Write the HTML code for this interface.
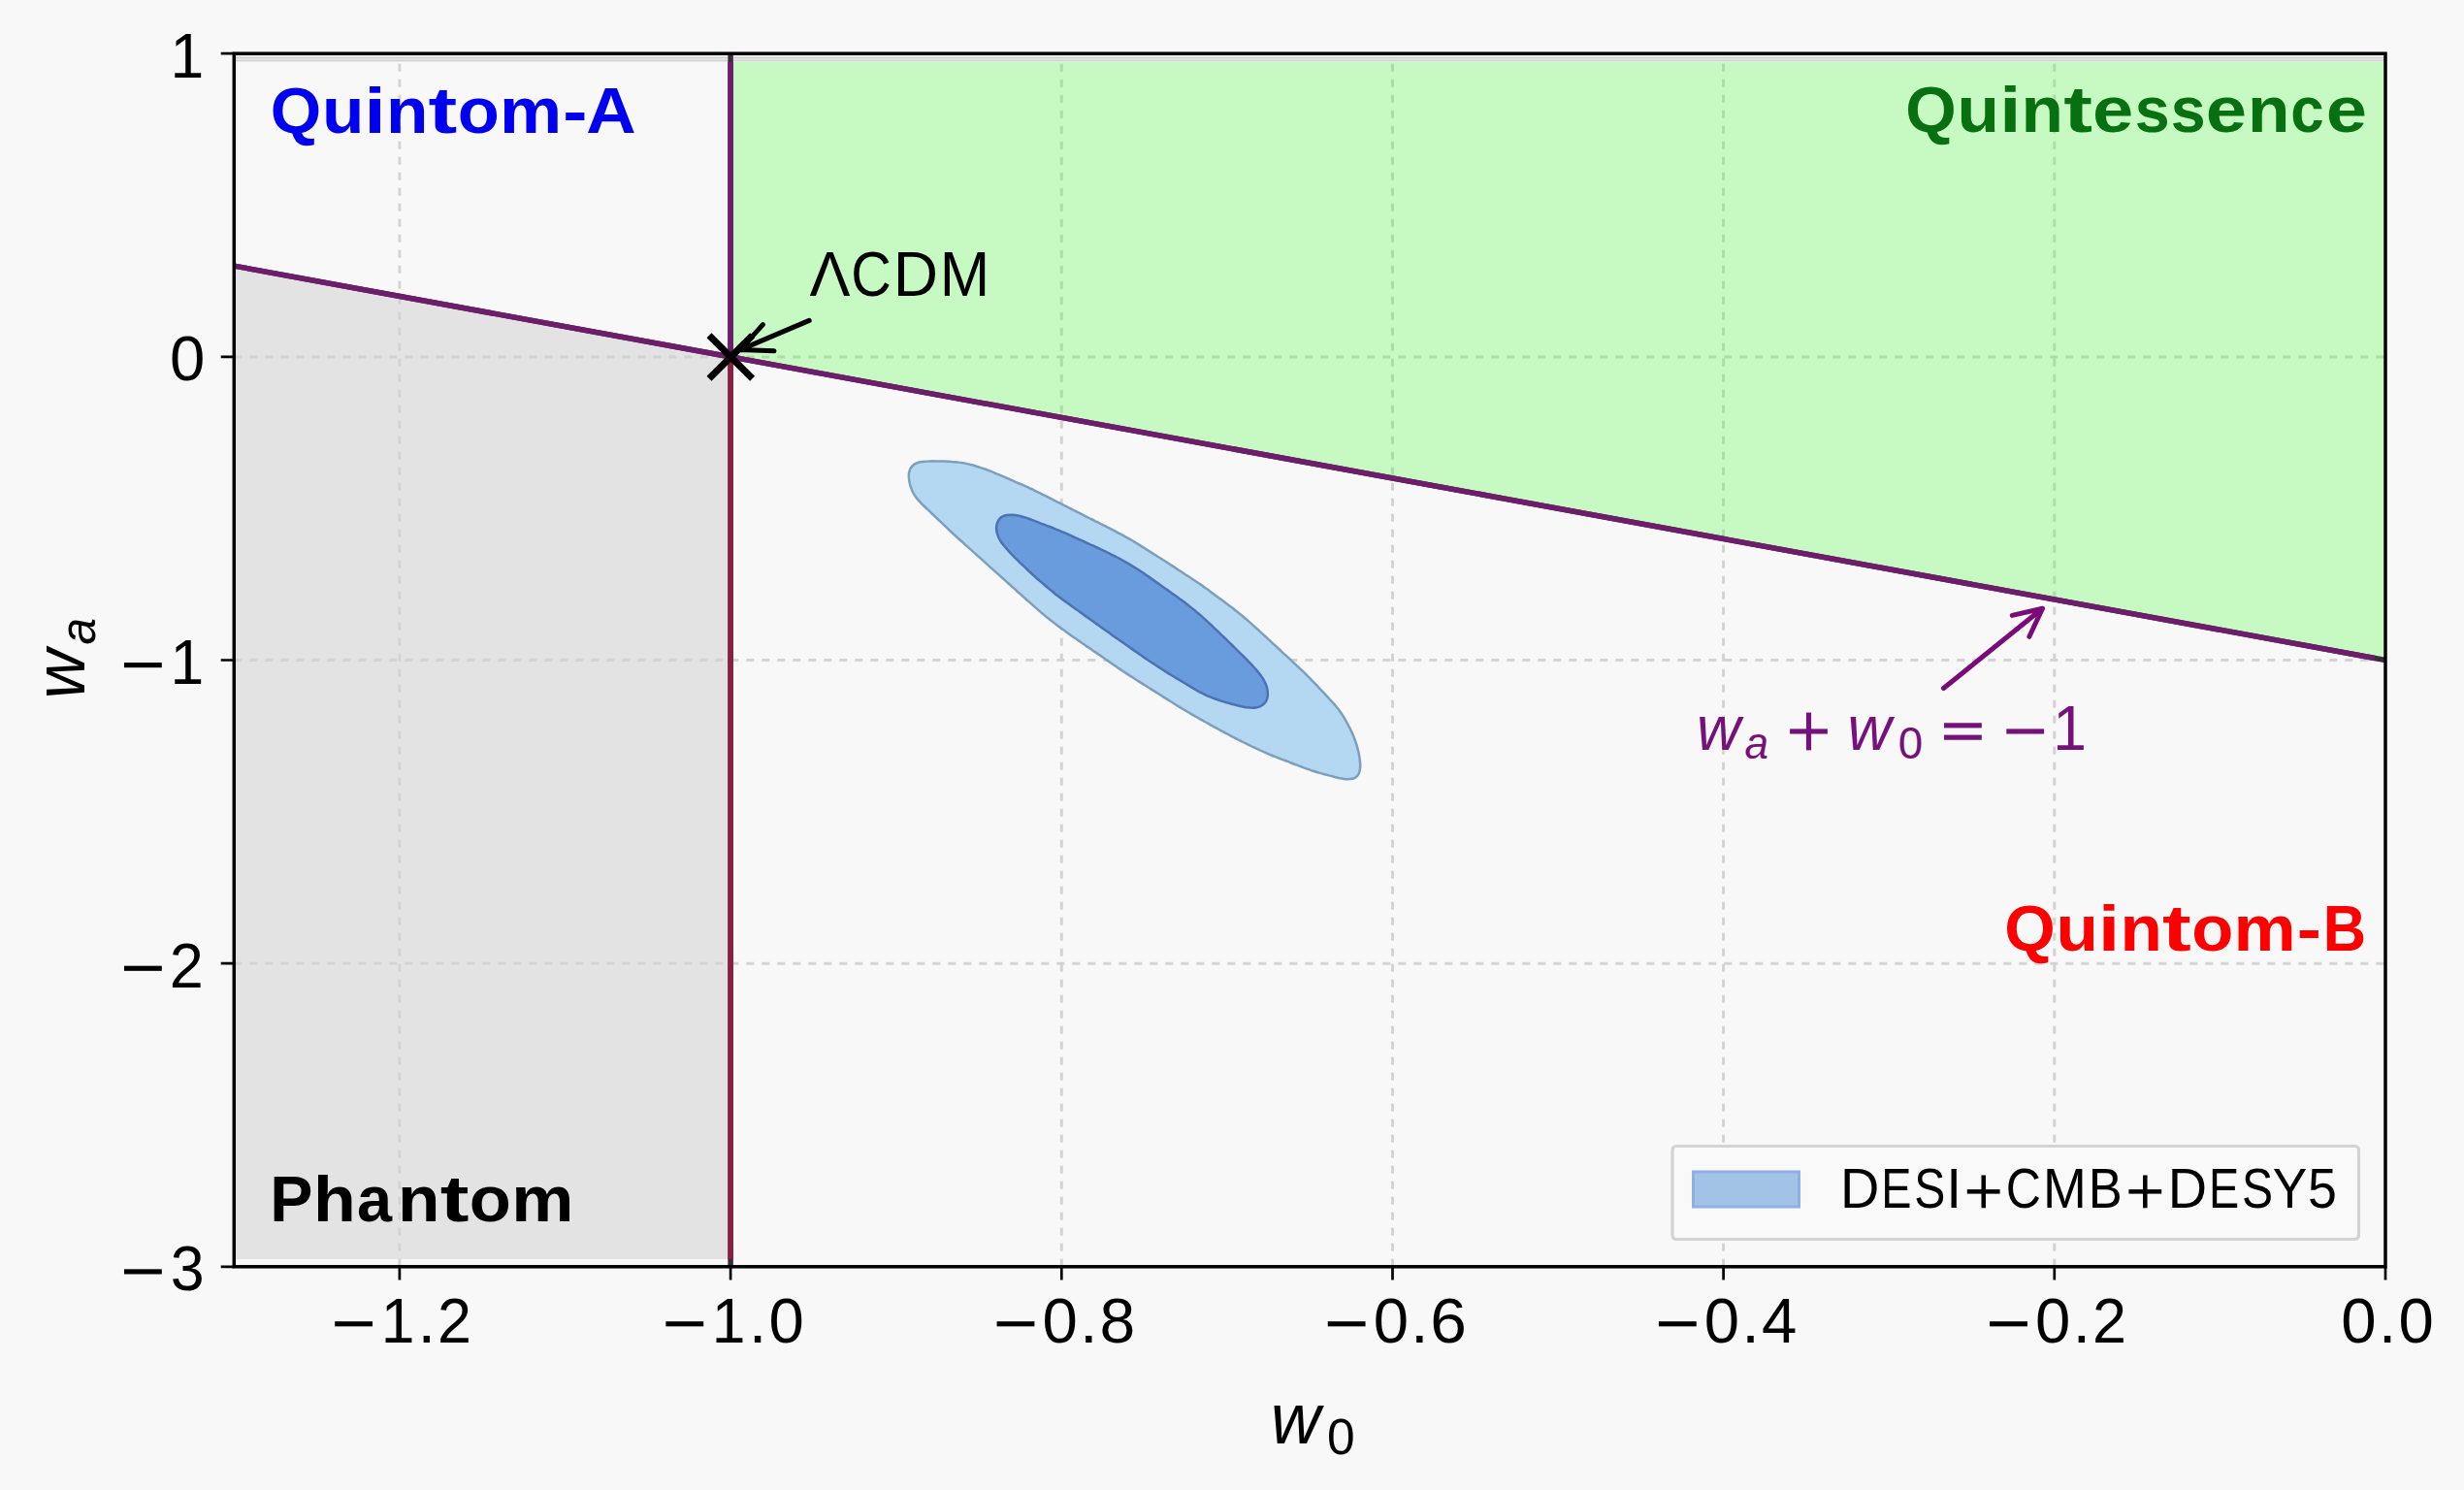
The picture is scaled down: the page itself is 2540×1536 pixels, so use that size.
<!DOCTYPE html><html><head><meta charset="utf-8"><title>w0-wa plane</title><style>html,body{margin:0;padding:0;background:#f8f8f8;width:2540px;height:1536px;overflow:hidden}svg{display:block}text{font-family:"Liberation Sans",sans-serif}</style></head><body>
<svg width="2540" height="1536" viewBox="0 0 2540 1536">
<rect x="0" y="0" width="2540" height="1536" fill="#f8f8f8"/>
<path d="M411.9,1305.8V55.2M753.1,1305.8V55.2M1094.3,1305.8V55.2M1435.5,1305.8V55.2M1776.6,1305.8V55.2M2117.8,1305.8V55.2M241.3,367.9H2459M241.3,680.5H2459M241.3,993.2H2459" stroke="#d3d3d3" stroke-width="3" stroke-dasharray="8 8" fill="none"/>
<polygon points="243.3,274.5 753.1,367.9 753.1,1298 243.3,1298" fill="#d3d3d3" fill-opacity="0.57"/>
<polygon points="753.1,64 2457.5,64 2457.5,680.3 753.1,367.9" fill="#34ff20" fill-opacity="0.25"/>
<rect x="241.3" y="57" width="2217.7" height="7" fill="#e9e9e9"/>
<path d="M241.3,59.6H2459M241.3,62.4H2459" stroke="#d0d0d0" stroke-width="1.2" fill="none"/>
<path d="M936.8,490.5C936.8,488.8 937,487.6 937.4,486.2C937.7,484.8 938,483.6 938.9,482.3C939.8,481 941.5,479.3 942.8,478.4C944.1,477.5 945.4,477.1 946.7,476.7C948.1,476.3 949.3,476.1 951.1,475.9C952.8,475.7 955.3,475.5 957,475.5C958.8,475.4 960,475.4 961.5,475.3C963,475.3 964.3,475.3 966,475.4C967.8,475.4 970.3,475.4 972,475.5C973.8,475.6 975,475.6 976.5,475.7C978,475.8 979.3,475.8 981,476C982.8,476.1 985.3,476.3 987,476.5C988.7,476.7 990,476.8 991.5,477.1C992.9,477.3 994.2,477.5 995.9,477.9C997.6,478.3 1000,478.9 1001.7,479.3C1003.4,479.8 1004.6,480.1 1006,480.5C1007.5,481 1008.7,481.3 1010.3,481.9C1012,482.4 1014.4,483.3 1016,483.8C1017.7,484.4 1018.8,484.9 1020.2,485.4C1021.6,486 1022.8,486.4 1024.4,487.1C1026,487.8 1028.3,488.8 1029.9,489.4C1031.5,490.1 1032.7,490.6 1034.1,491.2C1035.4,491.8 1036.6,492.3 1038.2,493C1039.8,493.7 1042.1,494.7 1043.7,495.4C1045.3,496.1 1046.5,496.6 1047.8,497.2C1049.2,497.8 1050.4,498.3 1052,499C1053.6,499.7 1055.9,500.7 1057.5,501.4C1059.1,502.1 1060.2,502.6 1061.6,503.3C1062.9,503.9 1064.1,504.4 1065.6,505.2C1067.2,506 1069.4,507.1 1071,507.9C1072.6,508.7 1073.7,509.2 1075,509.9C1076.4,510.6 1077.5,511.2 1079.1,511.9C1080.6,512.7 1082.9,513.9 1084.4,514.6C1086,515.4 1087.1,516 1088.4,516.7C1089.8,517.4 1090.9,517.9 1092.5,518.7C1094,519.5 1096.3,520.6 1097.8,521.4C1099.4,522.2 1100.5,522.8 1101.8,523.4C1103.2,524.1 1104.3,524.7 1105.9,525.5C1107.4,526.3 1109.7,527.4 1111.2,528.2C1112.8,529 1113.9,529.5 1115.2,530.2C1116.6,530.9 1117.7,531.5 1119.3,532.3C1120.8,533 1123.1,534.2 1124.6,535C1126.2,535.7 1127.3,536.3 1128.6,537C1130,537.7 1131.1,538.2 1132.7,539C1134.2,539.8 1136.5,540.9 1138,541.7C1139.6,542.5 1140.7,543.1 1142,543.8C1143.4,544.4 1144.5,545 1146.1,545.8C1147.6,546.6 1149.8,547.8 1151.4,548.6C1152.9,549.4 1154,550 1155.4,550.7C1156.7,551.4 1157.8,552 1159.3,552.8C1160.9,553.7 1163.1,554.9 1164.6,555.7C1166.1,556.6 1167.2,557.2 1168.5,558C1169.8,558.8 1170.8,559.4 1172.3,560.4C1173.8,561.3 1175.9,562.6 1177.4,563.6C1178.9,564.5 1179.9,565.2 1181.2,566C1182.5,566.8 1183.5,567.4 1185,568.4C1186.5,569.3 1188.6,570.6 1190.1,571.6C1191.6,572.5 1192.4,573.1 1193.9,574C1195.4,574.9 1197.5,576.3 1199,577.2C1200.4,578.1 1201.5,578.8 1202.8,579.6C1204,580.4 1205.1,581.1 1206.5,582.1C1208,583 1210.1,584.4 1211.6,585.4C1213,586.3 1214.1,587 1215.3,587.8C1216.6,588.7 1217.6,589.4 1219.1,590.3C1220.6,591.3 1222.6,592.7 1224.1,593.6C1225.6,594.6 1226.6,595.3 1227.9,596.1C1229.1,596.9 1230.2,597.6 1231.6,598.6C1233.1,599.6 1235.2,600.9 1236.6,601.9C1238.1,602.9 1239.1,603.6 1240.3,604.5C1241.5,605.4 1242.6,606.1 1244,607.1C1245.4,608.1 1247.4,609.6 1248.8,610.7C1250.2,611.7 1251.2,612.5 1252.4,613.4C1253.6,614.3 1254.6,615 1256,616.1C1257.4,617.1 1259.5,618.6 1260.9,619.6C1262.3,620.7 1263.3,621.4 1264.5,622.3C1265.7,623.2 1266.7,624 1268.1,625C1269.5,626.1 1271.5,627.6 1272.8,628.7C1274.2,629.8 1275.2,630.5 1276.4,631.5C1277.6,632.4 1278.5,633.2 1279.9,634.3C1281.2,635.4 1283.2,637 1284.5,638.1C1285.8,639.3 1286.8,640.1 1287.9,641.1C1289.1,642.1 1290,642.9 1291.3,644.1C1292.6,645.2 1294.4,646.9 1295.7,648.1C1297,649.3 1297.9,650.1 1299,651.2C1300.1,652.2 1301.1,653 1302.3,654.2C1303.6,655.4 1305.5,657.1 1306.8,658.3C1308,659.5 1309,660.3 1310.1,661.4C1311.2,662.4 1312.1,663.2 1313.4,664.4C1314.7,665.6 1316.5,667.3 1317.8,668.5C1319.1,669.7 1320,670.5 1321.1,671.6C1322.2,672.6 1323.1,673.4 1324.4,674.6C1325.7,675.8 1327.5,677.5 1328.8,678.7C1330.1,679.9 1331,680.7 1332.1,681.8C1333.2,682.8 1334.1,683.6 1335.4,684.8C1336.7,686 1338.5,687.7 1339.8,688.9C1341.1,690.1 1342,691 1343.1,692C1344.1,693.1 1345,693.9 1346.3,695.2C1347.5,696.4 1349.3,698.2 1350.5,699.4C1351.7,700.7 1352.6,701.6 1353.6,702.7C1354.7,703.8 1355.6,704.7 1356.8,705.9C1358,707.2 1359.7,709 1360.9,710.3C1362.1,711.5 1363,712.5 1364,713.6C1365,714.6 1365.9,715.6 1367.1,716.8C1368.3,718.1 1370,720 1371.1,721.3C1372.3,722.5 1373.2,723.5 1374.2,724.6C1375.2,725.7 1376,726.6 1377.1,728C1378.3,729.3 1379.8,731.3 1380.9,732.7C1381.9,734.1 1382.6,735.1 1383.4,736.4C1384.2,737.6 1384.8,738.7 1385.7,740.2C1386.6,741.7 1387.9,743.9 1388.7,745.4C1389.5,747 1390.1,748.1 1390.8,749.4C1391.5,750.7 1392.1,751.9 1392.8,753.4C1393.6,755 1394.6,757.3 1395.3,758.9C1396,760.5 1396.4,761.7 1396.9,763.1C1397.4,764.5 1397.8,765.7 1398.3,767.4C1398.8,769 1399.5,771.5 1399.9,773.2C1400.3,774.8 1400.6,775.8 1400.9,777.5C1401.2,779.3 1401.6,781.7 1401.8,783.5C1402,785.2 1402.1,786.5 1402.2,787.9C1402.2,789.4 1402.3,790.7 1402,792.4C1401.8,794 1401.2,796.4 1400.6,797.8C1399.9,799.2 1399.1,800.1 1398,800.9C1397,801.7 1396,802.3 1394.4,802.7C1392.9,803.1 1390.4,803.2 1388.7,803.3C1387,803.3 1385.8,803 1384.3,802.8C1382.8,802.6 1381.6,802.3 1379.9,802C1378.2,801.6 1375.8,801 1374.1,800.5C1372.4,800.1 1371.2,799.8 1369.7,799.4C1368.3,799 1367,798.7 1365.3,798.2C1363.7,797.8 1361.2,797.1 1359.6,796.6C1357.9,796.1 1356.7,795.8 1355.3,795.3C1353.8,794.8 1352.6,794.5 1351,793.9C1349.3,793.3 1347,792.5 1345.3,791.9C1343.7,791.3 1342.5,790.8 1341.1,790.3C1339.7,789.8 1338.5,789.3 1336.9,788.7C1335.3,788.1 1332.9,787.2 1331.3,786.5C1329.7,785.9 1328.5,785.4 1327.1,784.9C1325.7,784.4 1324.5,783.9 1322.9,783.3C1321.3,782.7 1318.9,781.8 1317.3,781.1C1315.7,780.5 1314.5,780 1313.1,779.5C1311.7,778.9 1310.5,778.5 1308.9,777.8C1307.3,777.1 1305,776.1 1303.4,775.4C1301.8,774.7 1300.7,774.2 1299.3,773.6C1297.9,772.9 1296.8,772.4 1295.2,771.6C1293.6,770.9 1291.4,769.8 1289.8,769.1C1288.2,768.3 1287.1,767.8 1285.7,767.1C1284.4,766.5 1283.3,765.9 1281.7,765.2C1280.1,764.4 1277.9,763.3 1276.3,762.5C1274.7,761.7 1273.6,761.1 1272.3,760.5C1271,759.8 1269.8,759.2 1268.3,758.4C1266.7,757.6 1264.5,756.4 1263,755.6C1261.4,754.7 1260.3,754.1 1259,753.4C1257.7,752.7 1256.6,752.1 1255.1,751.2C1253.6,750.4 1251.4,749.2 1249.8,748.3C1248.3,747.5 1247.2,746.9 1245.9,746.1C1244.6,745.4 1243.5,744.8 1241.9,744C1240.4,743.1 1238.2,741.9 1236.7,741.1C1235.2,740.2 1234.1,739.6 1232.8,738.8C1231.5,738.1 1230.4,737.5 1228.9,736.6C1227.4,735.7 1225.2,734.4 1223.7,733.5C1222.2,732.7 1221.1,732 1219.8,731.2C1218.6,730.5 1217.5,729.8 1216,728.9C1214.5,728 1212.4,726.7 1210.9,725.7C1209.4,724.8 1208.3,724.1 1207.1,723.3C1205.8,722.5 1204.7,721.9 1203.2,720.9C1201.8,720 1199.6,718.7 1198.2,717.7C1196.7,716.8 1195.6,716.1 1194.4,715.3C1193.1,714.5 1192,713.9 1190.5,712.9C1189.1,712 1186.9,710.7 1185.5,709.7C1184,708.8 1182.9,708.1 1181.7,707.3C1180.4,706.5 1179.3,705.9 1177.8,704.9C1176.4,704 1174.2,702.7 1172.8,701.7C1171.3,700.8 1170.2,700.1 1169,699.3C1167.7,698.5 1166.7,697.8 1165.2,696.9C1163.7,695.9 1161.6,694.5 1160.2,693.6C1158.7,692.6 1157.9,692 1156.4,691.1C1155,690.1 1152.9,688.7 1151.5,687.7C1150,686.7 1149,686 1147.7,685.1C1146.5,684.3 1145.5,683.6 1144,682.6C1142.6,681.6 1140.5,680.2 1139.1,679.2C1137.6,678.2 1136.6,677.5 1135.4,676.6C1134.1,675.8 1133.1,675.1 1131.7,674.1C1130.2,673.1 1128.2,671.7 1126.7,670.7C1125.3,669.7 1124.2,669 1123,668.1C1121.8,667.3 1120.7,666.5 1119.3,665.6C1117.8,664.6 1115.8,663.1 1114.3,662.2C1112.9,661.2 1111.9,660.4 1110.6,659.6C1109.4,658.7 1108.4,658 1106.9,657C1105.5,656 1103.5,654.5 1102,653.5C1100.6,652.5 1099.6,651.8 1098.4,650.9C1097.2,650 1096.2,649.3 1094.7,648.3C1093.3,647.2 1091.3,645.7 1089.9,644.7C1088.5,643.6 1087.5,642.9 1086.3,641.9C1085.2,641 1084.2,640.3 1082.8,639.2C1081.4,638.1 1079.5,636.5 1078.1,635.4C1076.7,634.3 1075.8,633.5 1074.6,632.6C1073.5,631.6 1072.5,630.8 1071.2,629.6C1069.9,628.5 1068,626.9 1066.7,625.7C1065.3,624.6 1064.4,623.7 1063.3,622.7C1062.2,621.7 1061.2,620.9 1059.9,619.7C1058.6,618.6 1056.8,616.9 1055.5,615.7C1054.2,614.5 1053.2,613.7 1052.1,612.7C1051,611.7 1050.1,610.9 1048.7,609.7C1047.4,608.5 1045.6,606.9 1044.3,605.7C1043,604.5 1042,603.7 1040.9,602.7C1039.8,601.7 1038.9,600.8 1037.6,599.7C1036.3,598.5 1034.4,596.8 1033.1,595.7C1031.8,594.5 1030.9,593.6 1029.8,592.6C1028.6,591.6 1027.7,590.8 1026.4,589.6C1025.1,588.5 1023.2,586.8 1021.9,585.6C1020.6,584.5 1019.7,583.6 1018.6,582.6C1017.5,581.6 1016.5,580.8 1015.2,579.6C1013.9,578.4 1012.1,576.8 1010.8,575.6C1009.5,574.4 1008.5,573.6 1007.4,572.6C1006.3,571.6 1005.4,570.7 1004.1,569.6C1002.8,568.4 1000.9,566.7 999.6,565.6C998.3,564.4 997.3,563.6 996.2,562.6C995.1,561.6 994.2,560.7 992.9,559.5C991.6,558.4 989.7,556.7 988.4,555.5C987.1,554.4 986.2,553.5 985.1,552.5C984,551.5 983,550.7 981.8,549.5C980.5,548.3 978.6,546.6 977.4,545.4C976.1,544.2 975.2,543.3 974.1,542.2C973,541.2 972.1,540.3 970.9,539.1C969.6,537.9 967.8,536.2 966.5,535C965.2,533.8 964.3,532.9 963.2,531.9C962.2,530.8 961.3,530 960,528.8C958.7,527.6 956.9,525.8 955.6,524.6C954.4,523.4 953.5,522.6 952.4,521.5C951.3,520.5 950.4,519.6 949.2,518.3C948,517.1 946.3,515.2 945.2,513.9C944.1,512.5 943.4,511.5 942.6,510.2C941.9,509 941.2,507.9 940.5,506.3C939.8,504.7 939,502.4 938.4,500.7C937.9,499.1 937.7,498.1 937.4,496.4C937.1,494.7 936.9,492.2 936.8,490.5Z" fill="#b4d7f2" stroke="#7c9fbf" stroke-width="2.5"/>
<path d="M1306.9,716.4C1306.8,718.1 1306.5,719.3 1306,720.6C1305.6,721.9 1305.1,723.1 1304.1,724.3C1303,725.5 1301.1,727 1299.8,727.8C1298.4,728.6 1297.1,728.9 1295.7,729.2C1294.3,729.5 1293.1,729.7 1291.3,729.7C1289.6,729.7 1287.1,729.5 1285.4,729.3C1283.7,729.1 1282.5,728.8 1281,728.5C1279.5,728.2 1278.3,727.9 1276.6,727.5C1274.9,727.1 1272.5,726.4 1270.8,726C1269.1,725.5 1267.9,725.2 1266.5,724.8C1265,724.4 1263.8,724.1 1262.1,723.6C1260.5,723.1 1258.1,722.4 1256.4,721.8C1254.8,721.2 1253.6,720.8 1252.2,720.3C1250.8,719.8 1249.6,719.3 1248,718.6C1246.4,718 1244.1,717 1242.5,716.3C1240.9,715.6 1239.8,715 1238.5,714.3C1237.1,713.6 1236,713 1234.5,712.2C1233,711.3 1230.8,710 1229.3,709.1C1227.8,708.2 1226.8,707.6 1225.5,706.8C1224.2,706 1223.1,705.4 1221.6,704.5C1220.1,703.6 1218,702.3 1216.5,701.4C1215,700.5 1213.9,699.9 1212.6,699.1C1211.3,698.3 1210.3,697.7 1208.8,696.8C1207.3,695.8 1205.1,694.6 1203.6,693.6C1202.1,692.7 1201.1,692.1 1199.8,691.3C1198.5,690.5 1197.5,689.8 1196,688.8C1194.6,687.9 1192.5,686.5 1191,685.5C1189.6,684.6 1188.7,684 1187.3,683C1185.8,682.1 1183.7,680.7 1182.3,679.7C1180.8,678.7 1179.8,678 1178.6,677.2C1177.3,676.3 1176.3,675.6 1174.9,674.6C1173.4,673.6 1171.4,672.2 1170,671.2C1168.5,670.1 1167.5,669.4 1166.3,668.6C1165,667.7 1164,667 1162.6,666C1161.2,665 1159.1,663.5 1157.7,662.5C1156.2,661.5 1155.2,660.8 1154,660C1152.8,659.1 1151.7,658.4 1150.3,657.4C1148.9,656.4 1146.8,654.9 1145.4,653.9C1144,652.9 1143,652.2 1141.8,651.3C1140.5,650.4 1139.5,649.7 1138.1,648.7C1136.7,647.7 1134.6,646.2 1133.2,645.2C1131.8,644.2 1130.8,643.4 1129.5,642.6C1128.3,641.7 1127.3,641 1125.9,640C1124.5,638.9 1122.4,637.5 1121,636.5C1119.6,635.5 1118.6,634.7 1117.3,633.9C1116.1,633 1115.1,632.3 1113.7,631.2C1112.2,630.2 1110.2,628.8 1108.8,627.8C1107.4,626.7 1106.3,626 1105.1,625.1C1103.9,624.3 1102.9,623.5 1101.5,622.5C1100,621.5 1098,620 1096.6,619C1095.2,618 1094.2,617.2 1093,616.3C1091.8,615.4 1090.8,614.6 1089.4,613.6C1088.1,612.5 1086.1,610.9 1084.8,609.8C1083.4,608.7 1082.5,607.8 1081.3,606.9C1080.2,605.9 1079.2,605.1 1077.9,604C1076.6,602.8 1074.7,601.2 1073.3,600.1C1072,599 1071.2,598.3 1069.9,597.2C1068.6,596 1066.7,594.4 1065.4,593.2C1064.1,592 1063.2,591.2 1062.1,590.1C1061,589.1 1060.1,588.3 1058.8,587C1057.6,585.8 1055.8,584.1 1054.5,582.9C1053.2,581.7 1052.3,580.8 1051.2,579.8C1050.1,578.8 1049.2,577.9 1048,576.7C1046.7,575.5 1045,573.7 1043.8,572.4C1042.6,571.2 1041.7,570.2 1040.7,569.1C1039.7,568 1038.8,567.1 1037.7,565.8C1036.6,564.4 1035,562.5 1033.9,561.2C1032.8,559.8 1032.1,558.8 1031.3,557.5C1030.5,556.2 1029.8,555.2 1029.2,553.6C1028.6,552 1027.8,549.7 1027.5,548C1027.2,546.3 1027.1,545.1 1027.2,543.6C1027.3,542.2 1027.3,540.9 1027.9,539.4C1028.5,537.9 1029.6,535.8 1030.6,534.6C1031.6,533.4 1032.7,532.8 1034,532.2C1035.2,531.6 1036.4,531.2 1038,530.9C1039.7,530.7 1042.2,530.7 1043.9,530.7C1045.6,530.8 1046.8,531 1048.3,531.3C1049.8,531.5 1051,531.8 1052.7,532.3C1054.4,532.7 1056.7,533.5 1058.4,534C1060.1,534.5 1061.2,535 1062.6,535.5C1064,536 1065.2,536.5 1066.8,537.1C1068.5,537.8 1070.8,538.7 1072.4,539.3C1074.1,539.9 1075.2,540.4 1076.6,540.9C1078,541.4 1079.2,541.9 1080.8,542.5C1082.5,543.2 1084.8,544.1 1086.4,544.7C1088,545.4 1089,545.7 1090.6,546.4C1092.2,547.1 1094.5,548.1 1096.1,548.7C1097.7,549.4 1098.9,549.9 1100.3,550.5C1101.6,551.1 1102.8,551.6 1104.4,552.3C1106,553 1108.2,554.1 1109.8,554.8C1111.4,555.5 1112.6,556 1113.9,556.7C1115.3,557.3 1116.4,557.8 1118,558.5C1119.6,559.3 1121.9,560.3 1123.5,561.1C1125.1,561.8 1126.2,562.3 1127.6,562.9C1128.9,563.6 1130.1,564.1 1131.7,564.8C1133.2,565.5 1135.5,566.6 1137.1,567.3C1138.7,568.1 1139.8,568.6 1141.2,569.3C1142.5,569.9 1143.6,570.5 1145.2,571.3C1146.8,572 1149,573.2 1150.5,574C1152.1,574.8 1153.2,575.4 1154.5,576.1C1155.8,576.8 1156.9,577.4 1158.4,578.3C1160,579.1 1162.1,580.4 1163.7,581.3C1165.2,582.1 1166.2,582.8 1167.5,583.6C1168.8,584.3 1169.9,585 1171.4,585.9C1172.8,586.9 1174.9,588.2 1176.4,589.2C1177.8,590.2 1178.9,590.9 1180.1,591.7C1181.3,592.6 1182.3,593.3 1183.8,594.3C1185.2,595.3 1187.2,596.8 1188.7,597.8C1190.1,598.8 1191.1,599.5 1192.3,600.4C1193.6,601.3 1194.6,602 1196,603C1197.4,604 1199.5,605.5 1200.9,606.5C1202.3,607.5 1203.4,608.2 1204.6,609.1C1205.8,609.9 1206.8,610.7 1208.2,611.7C1209.7,612.7 1211.7,614.1 1213.1,615.1C1214.6,616.2 1215.4,616.7 1216.8,617.8C1218.2,618.8 1220.2,620.3 1221.6,621.3C1223,622.4 1224,623.2 1225.2,624.1C1226.3,625 1227.3,625.8 1228.7,626.9C1230,628 1232,629.6 1233.3,630.7C1234.7,631.8 1235.6,632.6 1236.8,633.6C1237.9,634.6 1238.9,635.4 1240.2,636.6C1241.5,637.7 1243.3,639.4 1244.6,640.6C1245.9,641.8 1246.8,642.7 1247.9,643.7C1249,644.7 1249.9,645.6 1251.1,646.8C1252.4,648 1254.2,649.7 1255.5,650.9C1256.7,652.1 1257.6,653 1258.7,654.1C1259.8,655.1 1260.7,656 1262,657.2C1263.2,658.4 1265,660.1 1266.3,661.3C1267.5,662.6 1268.4,663.4 1269.5,664.5C1270.6,665.5 1271.5,666.4 1272.7,667.6C1274,668.8 1275.8,670.6 1277,671.8C1278.3,673 1279.2,673.9 1280.2,675C1281.3,676 1282.2,676.9 1283.4,678.2C1284.6,679.4 1286.4,681.2 1287.6,682.5C1288.8,683.7 1289.6,684.6 1290.7,685.7C1291.7,686.8 1292.6,687.7 1293.7,689C1294.9,690.4 1296.5,692.2 1297.6,693.6C1298.7,694.9 1299.5,695.9 1300.3,697.2C1301.2,698.4 1301.9,699.4 1302.7,700.9C1303.5,702.5 1304.6,704.7 1305.2,706.3C1305.8,707.9 1306.2,708.9 1306.4,710.6C1306.7,712.3 1306.9,714.7 1306.9,716.4Z" fill="#689cdc" stroke="#4c72b4" stroke-width="2.5"/>
<path d="M241.3,274.1L2459,680.5" stroke="#3a2a3a" stroke-width="5.5" fill="none"/>
<path d="M753.1,55.2V1305.8" stroke="#3a2a3a" stroke-width="5.5" fill="none"/>
<path d="M241.3,274.1L2448,678.5" stroke="#6e1c6c" stroke-width="5.5" fill="none"/>
<path d="M753.1,64V367.9" stroke="#6e1c6c" stroke-width="5.5" fill="none"/>
<path d="M753.1,367.9V1298" stroke="#8b1e41" stroke-width="5.5" fill="none"/>
<path d="M731,345.7L775.6,390.3M731,390.3L775.6,345.7" stroke="#000" stroke-width="7" fill="none"/>
<path d="M834.2,330.4L763,360.6M798,361.8L763,360.6L786.4,334.6" stroke="#000" stroke-width="5" fill="none" stroke-linecap="round" stroke-linejoin="round"/>
<path d="M2003.5,709.5L2105.5,627.3M2074.3,634.4L2105.5,627.3L2091.9,656.3" stroke="#7a0a7a" stroke-width="5" fill="none" stroke-linecap="round" stroke-linejoin="round"/>
<rect x="241.3" y="55.2" width="2217.7" height="1250.6" fill="none" stroke="#000" stroke-width="3.5"/>
<path d="M411.9,1305.8v13.6M753.1,1305.8v13.6M1094.3,1305.8v13.6M1435.5,1305.8v13.6M1776.6,1305.8v13.6M2117.8,1305.8v13.6M2459,1305.8v13.6M241.3,55.2h-13.6M241.3,367.9h-13.6M241.3,680.5h-13.6M241.3,993.2h-13.6M241.3,1305.8h-13.6" stroke="#000" stroke-width="2.7" fill="none"/>
<rect x="345.21" y="1362.19" width="38.81" height="5.15" fill="#000"/><text transform="translate(392.65,1384.2) scale(0.9502,1)" font-size="65.7" fill="#000">1</text><text transform="translate(430.54,1384.2) scale(1.0212,1)" font-size="65.7" fill="#000">.</text><text transform="translate(451.12,1384.2) scale(0.9589,1)" font-size="65.7" fill="#000">2</text>
<rect x="686.39" y="1362.19" width="38.81" height="5.15" fill="#000"/><text transform="translate(733.83,1384.2) scale(0.9502,1)" font-size="65.7" fill="#000">1</text><text transform="translate(771.72,1384.2) scale(1.0212,1)" font-size="65.7" fill="#000">.</text><text transform="translate(792.46,1384.2) scale(0.9948,1)" font-size="65.7" fill="#000">0</text>
<rect x="1027.57" y="1362.19" width="38.81" height="5.15" fill="#000"/><text transform="translate(1074.49,1384.2) scale(0.9948,1)" font-size="65.7" fill="#000">0</text><text transform="translate(1112.9,1384.2) scale(1.0212,1)" font-size="65.7" fill="#000">.</text><text transform="translate(1133.45,1384.2) scale(1.0056,1)" font-size="65.7" fill="#000">8</text>
<rect x="1368.75" y="1362.19" width="38.81" height="5.15" fill="#000"/><text transform="translate(1415.67,1384.2) scale(0.9948,1)" font-size="65.7" fill="#000">0</text><text transform="translate(1454.08,1384.2) scale(1.0212,1)" font-size="65.7" fill="#000">.</text><text transform="translate(1474.18,1384.2) scale(1.0296,1)" font-size="65.7" fill="#000">6</text>
<rect x="1709.93" y="1362.19" width="38.81" height="5.15" fill="#000"/><text transform="translate(1756.85,1384.2) scale(0.9948,1)" font-size="65.7" fill="#000">0</text><text transform="translate(1795.26,1384.2) scale(1.0212,1)" font-size="65.7" fill="#000">.</text><text transform="translate(1816,1384.2) scale(0.9949,1)" font-size="65.7" fill="#000">4</text>
<rect x="2051.11" y="1362.19" width="38.81" height="5.15" fill="#000"/><text transform="translate(2098.03,1384.2) scale(0.9948,1)" font-size="65.7" fill="#000">0</text><text transform="translate(2136.44,1384.2) scale(1.0212,1)" font-size="65.7" fill="#000">.</text><text transform="translate(2157.02,1384.2) scale(0.9589,1)" font-size="65.7" fill="#000">2</text>
<text transform="translate(2413.23,1384.2) scale(0.9948,1)" font-size="65.7" fill="#000">0</text><text transform="translate(2451.65,1384.2) scale(1.0212,1)" font-size="65.7" fill="#000">.</text><text transform="translate(2472.39,1384.2) scale(0.9948,1)" font-size="65.7" fill="#000">0</text>
<text transform="translate(175.41,79.75) scale(0.9502,1)" font-size="65.7" fill="#000">1</text>
<text transform="translate(174.89,392.4) scale(0.9948,1)" font-size="65.7" fill="#000">0</text>
<rect x="127.97" y="683.04" width="38.81" height="5.15" fill="#000"/><text transform="translate(175.41,705.05) scale(0.9502,1)" font-size="65.7" fill="#000">1</text>
<rect x="127.97" y="995.69" width="38.81" height="5.15" fill="#000"/><text transform="translate(174.73,1017.7) scale(0.9589,1)" font-size="65.7" fill="#000">2</text>
<rect x="127.97" y="1308.34" width="38.81" height="5.15" fill="#000"/><text transform="translate(175.69,1330.35) scale(0.9554,1)" font-size="65.7" fill="#000">3</text>
<text transform="translate(278.63,136.8) scale(1.0187,1)" font-size="66.23" fill="#0000f0" font-weight="bold">Q</text><text transform="translate(331.89,136.8) scale(1.0745,1)" font-size="66.23" fill="#0000f0" font-weight="bold">u</text><text transform="translate(375.6,136.8) scale(1.2023,1)" font-size="66.23" fill="#0000f0" font-weight="bold">i</text><text transform="translate(397.89,136.8) scale(1.0745,1)" font-size="66.23" fill="#0000f0" font-weight="bold">n</text><text transform="translate(441.56,136.8) scale(1.3514,1)" font-size="66.23" fill="#0000f0" font-weight="bold">t</text><text transform="translate(471.64,136.8) scale(1.0648,1)" font-size="66.23" fill="#0000f0" font-weight="bold">o</text><text transform="translate(515.07,136.8) scale(1.0908,1)" font-size="66.23" fill="#0000f0" font-weight="bold">m</text><text transform="translate(580.21,136.8) scale(1.1397,1)" font-size="66.23" fill="#0000f0" font-weight="bold">-</text><text transform="translate(604.24,136.8) scale(1.0749,1)" font-size="66.23" fill="#0000f0" font-weight="bold">A</text>
<text transform="translate(1964.23,135.8) scale(1.0187,1)" font-size="66.23" fill="#087010" font-weight="bold">Q</text><text transform="translate(2017.49,135.8) scale(1.0745,1)" font-size="66.23" fill="#087010" font-weight="bold">u</text><text transform="translate(2061.2,135.8) scale(1.2023,1)" font-size="66.23" fill="#087010" font-weight="bold">i</text><text transform="translate(2083.49,135.8) scale(1.0745,1)" font-size="66.23" fill="#087010" font-weight="bold">n</text><text transform="translate(2127.16,135.8) scale(1.3514,1)" font-size="66.23" fill="#087010" font-weight="bold">t</text><text transform="translate(2157.03,135.8) scale(1.1470,1)" font-size="66.23" fill="#087010" font-weight="bold">e</text><text transform="translate(2200.66,135.8) scale(0.9754,1)" font-size="66.23" fill="#087010" font-weight="bold">s</text><text transform="translate(2237.86,135.8) scale(0.9754,1)" font-size="66.23" fill="#087010" font-weight="bold">s</text><text transform="translate(2273.82,135.8) scale(1.1470,1)" font-size="66.23" fill="#087010" font-weight="bold">e</text><text transform="translate(2317.05,135.8) scale(1.0745,1)" font-size="66.23" fill="#087010" font-weight="bold">n</text><text transform="translate(2361.25,135.8) scale(0.9343,1)" font-size="66.23" fill="#087010" font-weight="bold">c</text><text transform="translate(2397.75,135.8) scale(1.1470,1)" font-size="66.23" fill="#087010" font-weight="bold">e</text>
<text transform="translate(2066.13,979.7) scale(1.0187,1)" font-size="66.23" fill="#ff0000" font-weight="bold">Q</text><text transform="translate(2119.39,979.7) scale(1.0745,1)" font-size="66.23" fill="#ff0000" font-weight="bold">u</text><text transform="translate(2163.1,979.7) scale(1.2023,1)" font-size="66.23" fill="#ff0000" font-weight="bold">i</text><text transform="translate(2185.39,979.7) scale(1.0745,1)" font-size="66.23" fill="#ff0000" font-weight="bold">n</text><text transform="translate(2229.06,979.7) scale(1.3514,1)" font-size="66.23" fill="#ff0000" font-weight="bold">t</text><text transform="translate(2259.14,979.7) scale(1.0648,1)" font-size="66.23" fill="#ff0000" font-weight="bold">o</text><text transform="translate(2302.57,979.7) scale(1.0908,1)" font-size="66.23" fill="#ff0000" font-weight="bold">m</text><text transform="translate(2367.71,979.7) scale(1.1397,1)" font-size="66.23" fill="#ff0000" font-weight="bold">-</text><text transform="translate(2394.83,979.7) scale(0.9286,1)" font-size="66.23" fill="#ff0000" font-weight="bold">B</text>
<text transform="translate(278.27,1259.4) scale(1.0007,1)" font-size="66.23" fill="#000" font-weight="bold">P</text><text transform="translate(323.01,1259.4) scale(1.0832,1)" font-size="66.23" fill="#000" font-weight="bold">h</text><text transform="translate(368.05,1259.4) scale(0.9792,1)" font-size="66.23" fill="#000" font-weight="bold">a</text><text transform="translate(410,1259.4) scale(1.0745,1)" font-size="66.23" fill="#000" font-weight="bold">n</text><text transform="translate(453.67,1259.4) scale(1.3514,1)" font-size="66.23" fill="#000" font-weight="bold">t</text><text transform="translate(483.74,1259.4) scale(1.0648,1)" font-size="66.23" fill="#000" font-weight="bold">o</text><text transform="translate(527.18,1259.4) scale(1.0908,1)" font-size="66.23" fill="#000" font-weight="bold">m</text>
<text transform="translate(834.39,305.3) scale(0.9577,1)" font-size="65.7" fill="#000">Λ</text><text transform="translate(877.19,305.3) scale(0.8761,1)" font-size="65.7" fill="#000">C</text><text transform="translate(920.74,305.3) scale(0.9764,1)" font-size="65.7" fill="#000">D</text><text transform="translate(968.67,305.3) scale(0.9410,1)" font-size="65.7" fill="#000">M</text>
<text transform="translate(1749.08,773.4) scale(0.9539,1)" font-size="65.7" fill="#76107a" font-style="italic">w</text>
<text transform="translate(1798.61,782.1) scale(0.9557,1)" font-size="45.99" fill="#76107a" font-style="italic">a</text>
<rect x="1845.1" y="751.39" width="38.81" height="5.15" fill="#76107a"/><rect x="1861.93" y="734.56" width="5.15" height="38.81" fill="#76107a"/>
<text transform="translate(1904.48,773.4) scale(0.9539,1)" font-size="65.7" fill="#76107a" font-style="italic">w</text>
<text transform="translate(1956.71,782.1) scale(0.9948,1)" font-size="45.99" fill="#76107a">0</text>
<rect x="2004" y="745.25" width="38.81" height="5.15" fill="#76107a"/><rect x="2004" y="757.6" width="38.81" height="5.15" fill="#76107a"/>
<rect x="2068.3" y="751.39" width="38.81" height="5.15" fill="#76107a"/>
<text transform="translate(2116.25,773.4) scale(0.9502,1)" font-size="65.7" fill="#76107a">1</text>
<text transform="translate(1310.08,1487.5) scale(0.9539,1)" font-size="74.17" fill="#000" font-style="italic">w</text>
<text transform="translate(1367.98,1498.7) scale(0.9948,1)" font-size="51.92" fill="#000">0</text>
<g transform="translate(87.1,717.8) rotate(-90)"><text transform="translate(-2.72,0) scale(0.9539,1)" font-size="74.17" fill="#000" font-style="italic">w</text><text transform="translate(53.19,10.6) scale(0.9557,1)" font-size="51.92" fill="#000" font-style="italic">a</text></g>
<rect x="1724" y="1181.5" width="707.5" height="96" rx="4" ry="4" fill="#f9f9f9" stroke="#d3d3d3" stroke-width="3.2"/>
<rect x="1745.5" y="1208" width="109" height="36" fill="#a3c3e6" stroke="#8eaee6" stroke-width="3"/>
<text transform="translate(1896.92,1245.3) scale(0.9764,1)" font-size="57.22" fill="#000">D</text><text transform="translate(1939.24,1245.3) scale(0.8179,1)" font-size="57.22" fill="#000">E</text><text transform="translate(1973.27,1245.3) scale(0.8413,1)" font-size="57.22" fill="#000">S</text><text transform="translate(2006.21,1245.3) scale(0.9981,1)" font-size="57.22" fill="#000">I</text><rect x="2027.83" y="1226.13" width="33.8" height="4.48" fill="#000"/><rect x="2042.49" y="1211.47" width="4.48" height="33.8" fill="#000"/><text transform="translate(2067.84,1245.3) scale(0.8761,1)" font-size="57.22" fill="#000">C</text><text transform="translate(2105.94,1245.3) scale(0.9410,1)" font-size="57.22" fill="#000">M</text><text transform="translate(2152.64,1245.3) scale(0.9169,1)" font-size="57.22" fill="#000">B</text><rect x="2194.41" y="1226.13" width="33.8" height="4.48" fill="#000"/><rect x="2209.07" y="1211.47" width="4.48" height="33.8" fill="#000"/><text transform="translate(2234.65,1245.3) scale(0.9764,1)" font-size="57.22" fill="#000">D</text><text transform="translate(2276.98,1245.3) scale(0.8179,1)" font-size="57.22" fill="#000">E</text><text transform="translate(2311.01,1245.3) scale(0.8413,1)" font-size="57.22" fill="#000">S</text><text transform="translate(2342.64,1245.3) scale(0.9312,1)" font-size="57.22" fill="#000">Y</text><text transform="translate(2378.92,1245.3) scale(0.9389,1)" font-size="57.22" fill="#000">5</text>
</svg></body></html>
